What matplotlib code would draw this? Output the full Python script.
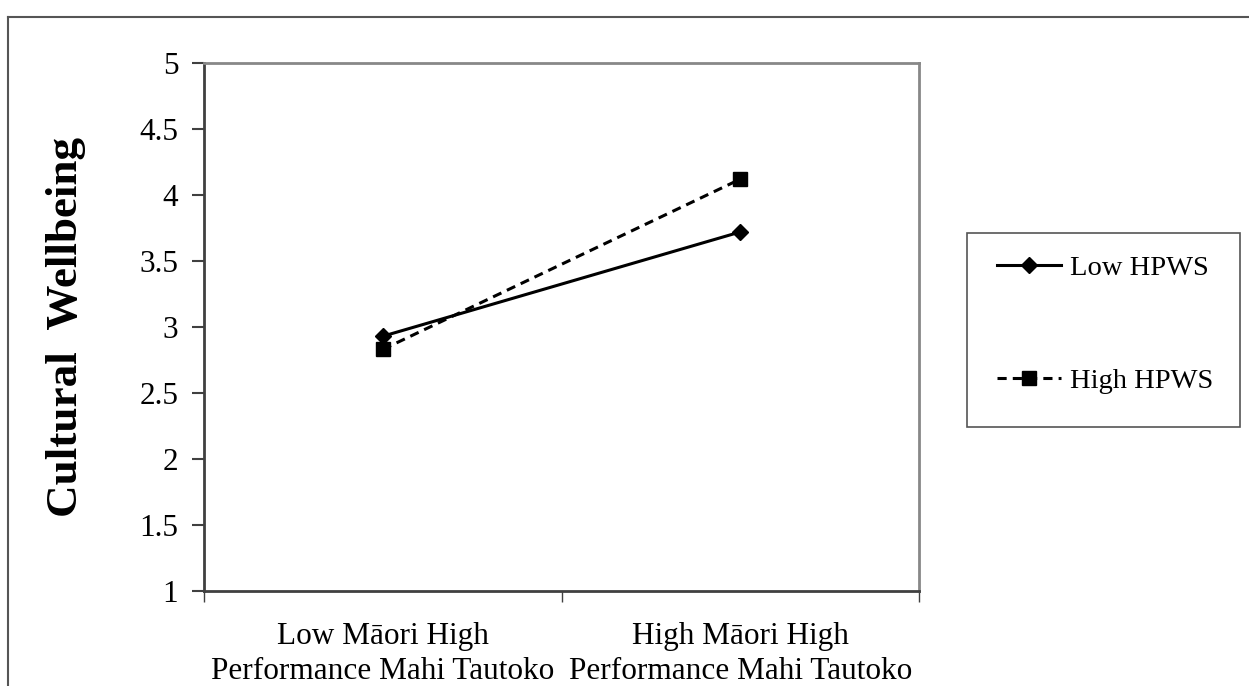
import matplotlib.pyplot as plt
from matplotlib.lines import Line2D
from matplotlib.patches import Rectangle

# data
categories = ["Low M\u0101ori High\nPerformance Mahi Tautoko",
              "High M\u0101ori High\nPerformance Mahi Tautoko"]
low_hpws = [2.93, 3.72]
high_hpws = [2.83, 4.12]
yticks = [1, 1.5, 2, 2.5, 3, 3.5, 4, 4.5, 5]
ytick_labels = ["1", "1.5", "2", "2.5", "3", "3.5", "4", "4.5", "5"]

plt.rcParams['font.family'] = ['Liberation Serif', 'DejaVu Serif']

W, H = 1249, 686
fig = plt.figure(figsize=(12.49, 6.86), dpi=100)
ax = fig.add_axes([204/W, 1-591/H, (919-204)/W, (591-63)/H])

x = [0, 1]
ax.plot(x, low_hpws, color="black", lw=2.2, marker="D", markersize=8, label="Low HPWS")
ax.plot(x, high_hpws, color="black", lw=2.2, ls=(0, (3, 2)), marker="s", markersize=10,
        label="High HPWS")

ax.set_xlim(-0.5, 1.5)
ax.set_ylim(1, 5)
ax.set_yticks(yticks)
ax.set_yticklabels(ytick_labels)
ax.set_xticks([0, 1])
ax.set_xticklabels(categories, linespacing=1.3)
ax.set_xticks([-0.5, 0.5, 1.5], minor=True)
ax.tick_params(axis="x", which="major", length=0, pad=22, labelsize=22.5)
ax.tick_params(axis="x", which="minor", length=8, width=1, color="#404040")
ax.tick_params(axis="y", length=9, width=1.5, color="#404040", pad=9.5, labelsize=22.5)

ax.spines["left"].set_color("#404040")
ax.spines["bottom"].set_color("#404040")
ax.spines["top"].set_color("#888888")
ax.spines["right"].set_color("#888888")
for s in ax.spines.values():
    s.set_linewidth(2)

ax.set_ylabel("Cultural  Wellbeing", fontsize=32.5, fontweight="bold")
ax.yaxis.set_label_coords(-0.165, 0.5)

# legend box drawn separately so the entries can sit where they do in the original
fig.add_artist(Rectangle((967/W, 1-427/H), (1240-967)/W, (427-233)/H,
                         transform=fig.transFigure, fill=False,
                         edgecolor="#555555", lw=1.2))
fig.legend(loc="upper left", bbox_to_anchor=(997/W, 1-255/H),
           fontsize=20.5, frameon=False,
           labelspacing=3.07, borderpad=0, handlelength=2.25, handletextpad=0.3,
           borderaxespad=0)

# outer frame of the figure box
fig.add_artist(Line2D([8/W, 8/W], [0, 1-17/H], color="#555555", lw=1.5))
fig.add_artist(Line2D([8/W, 1], [1-17/H, 1-17/H], color="#555555", lw=1.5))

fig.savefig("out.png", dpi=100)
